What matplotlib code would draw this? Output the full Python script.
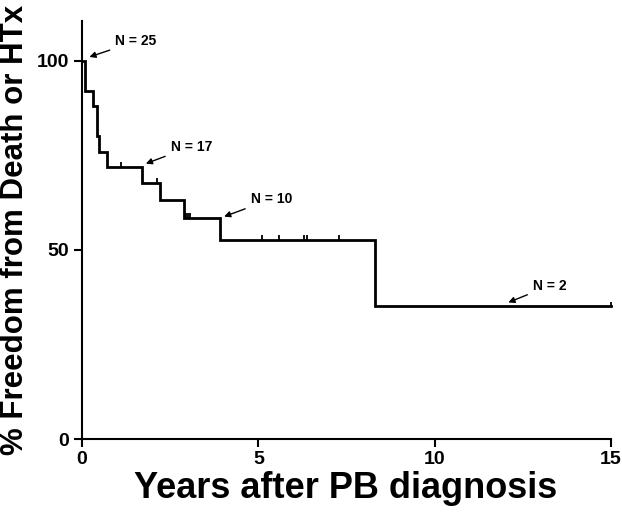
import matplotlib
matplotlib.use('Agg')
import matplotlib.pyplot as plt

plt.rcParams['font.family'] = ['Liberation Sans', 'DejaVu Sans']
plt.rcParams['font.weight'] = 'bold'

# Kaplan-Meier steps
event_times = [0.085, 0.30, 0.42, 0.49, 0.70, 1.71, 2.21, 2.90, 3.91, 8.31]
event_surv = [92, 88, 80, 76, 72, 67.8, 63.2, 58.5, 52.6, 35.1]
end_time = 15

# censored observations (time, survival level)
censor_times = [1.10, 2.12, 2.95, 3.00, 3.06, 5.09, 5.60, 6.30, 6.37, 7.30, 15.0]
censor_surv = [72, 67.8, 58.5, 58.5, 58.5, 52.6, 52.6, 52.6, 52.6, 52.6, 35.1]

# number-at-risk notes: (label, arrow tip x, tip y, text x, text y)
notes = [('N = 25', 0.21, 101.0, 0.94, 105.1),
         ('N = 17', 1.81, 72.8, 2.51, 77.3),
         ('N = 10', 4.03, 58.8, 4.78, 63.4),
         ('N = 2', 12.09, 36.1, 12.78, 40.5)]

xticks = [0, 5, 10, 15]
yticks = [0, 50, 100]

fig = plt.figure(figsize=(6.22, 5.2), dpi=100)
ax = fig.add_axes([82 / 622, 81 / 520, 529 / 622, 418 / 520])

t = [0] + event_times + [end_time]
s = [100] + event_surv + [event_surv[-1]]
ax.step(t, s, where='post', color='black', lw=2.0, clip_on=False,
        solid_joinstyle='miter')
ax.vlines(censor_times, censor_surv, [v + 1.2 for v in censor_surv],
          color='black', lw=1.3, clip_on=False)

for label, tx, ty, lx, ly in notes:
    ax.annotate(label, xy=(tx, ty), xytext=(lx, ly), fontsize=10,
                fontweight='bold', ha='left', va='center',
                arrowprops=dict(arrowstyle='-|>', color='black', lw=1.0,
                                mutation_scale=9, shrinkA=2, shrinkB=0))

ax.set_xlim(0, 15)
ax.set_ylim(0, 110.5)
ax.set_xticks(xticks)
ax.set_yticks(yticks)
ax.tick_params(direction='out', length=6, width=1.5, labelsize=14, pad=3)
for lab in ax.get_xticklabels() + ax.get_yticklabels():
    lab.set_fontweight('bold')
ax.spines['top'].set_visible(False)
ax.spines['right'].set_visible(False)
ax.spines['left'].set_linewidth(1.5)
ax.spines['bottom'].set_linewidth(1.5)

fig.text(346 / 622, 1 - 488 / 520, 'Years after PB diagnosis', fontsize=26,
         fontweight='bold', ha='center', va='center')
fig.text(15 / 622, 1 - 230 / 520, '% Freedom from Death or HTx', fontsize=22.5,
         fontweight='bold', ha='center', va='center', rotation=90)

fig.savefig('out.png', dpi=100)
